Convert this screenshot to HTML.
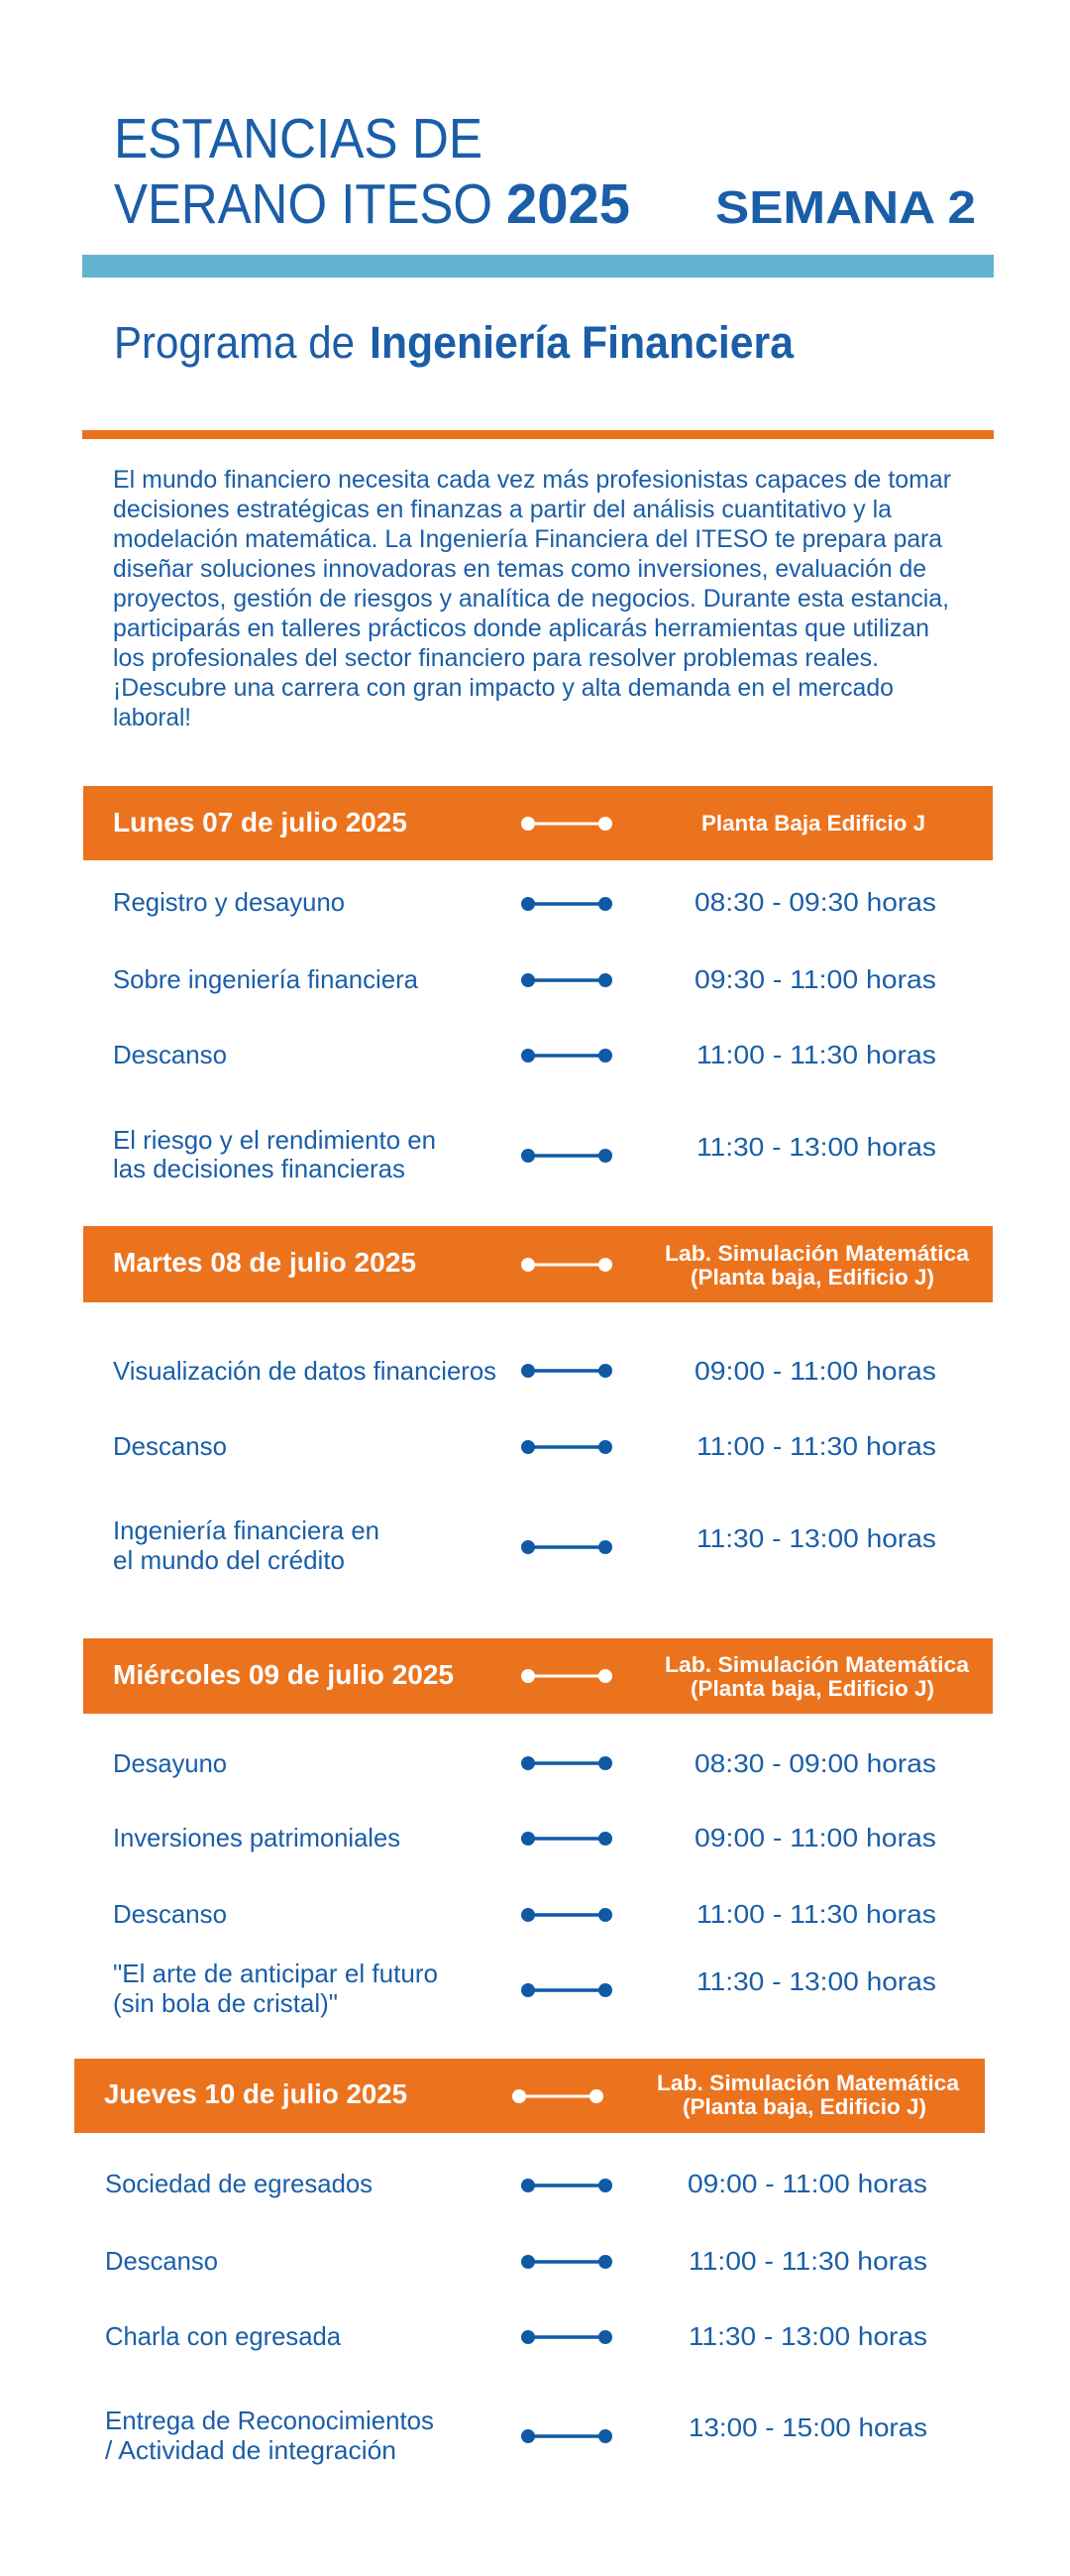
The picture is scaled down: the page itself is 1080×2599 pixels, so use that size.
<!DOCTYPE html>
<html><head><meta charset="utf-8"><style>html,body{margin:0;padding:0;background:#fff}svg{display:block}</style></head>
<body>
<svg width="1080" height="2599" viewBox="0 0 1080 2599" xmlns="http://www.w3.org/2000/svg" font-family="Liberation Sans, sans-serif">
<defs>
<g id="cw"><line x1="533" y1="0" x2="611" y2="0" stroke="#fff" stroke-width="3"/><circle cx="533" cy="0" r="7" fill="#fff"/><circle cx="611" cy="0" r="7" fill="#fff"/></g>
<g id="cb"><line x1="533" y1="0" x2="611" y2="0" stroke="#1059a5" stroke-width="3.5"/><circle cx="533" cy="0" r="7" fill="#1059a5"/><circle cx="611" cy="0" r="7" fill="#1059a5"/></g>
</defs>
<rect width="1080" height="2599" fill="#fff"/>
<g fill="#1a5ea8">
<text x="115" y="159" font-size="57" textLength="372" lengthAdjust="spacingAndGlyphs">ESTANCIAS DE</text>
<text x="115" y="225" font-size="57" textLength="382" lengthAdjust="spacingAndGlyphs">VERANO ITESO</text>
<text x="511" y="225" font-size="57" font-weight="bold" textLength="125" lengthAdjust="spacingAndGlyphs">2025</text>
<text x="722" y="225" font-size="46" font-weight="bold" textLength="263" lengthAdjust="spacingAndGlyphs">SEMANA 2</text>
</g>
<rect x="83" y="257" width="920" height="23" fill="#62b3d0"/>
<g fill="#1a5ea8">
<text x="115" y="361" font-size="45" textLength="243" lengthAdjust="spacingAndGlyphs">Programa de</text>
<text x="373" y="361" font-size="45" font-weight="bold" textLength="428" lengthAdjust="spacingAndGlyphs">Ingeniería Financiera</text>
</g>
<rect x="83" y="434" width="920" height="9" fill="#ec731e"/>
<g fill="#1a5ea8" font-size="25">
<text x="114" y="492" textLength="846" lengthAdjust="spacingAndGlyphs">El mundo financiero necesita cada vez más profesionistas capaces de tomar</text>
<text x="114" y="522" textLength="786" lengthAdjust="spacingAndGlyphs">decisiones estratégicas en finanzas a partir del análisis cuantitativo y la</text>
<text x="114" y="552" textLength="837" lengthAdjust="spacingAndGlyphs">modelación matemática. La Ingeniería Financiera del ITESO te prepara para</text>
<text x="114" y="582" textLength="821" lengthAdjust="spacingAndGlyphs">diseñar soluciones innovadoras en temas como inversiones, evaluación de</text>
<text x="114" y="612" textLength="844" lengthAdjust="spacingAndGlyphs">proyectos, gestión de riesgos y analítica de negocios. Durante esta estancia,</text>
<text x="114" y="642" textLength="824" lengthAdjust="spacingAndGlyphs">participarás en talleres prácticos donde aplicarás herramientas que utilizan</text>
<text x="114" y="672" textLength="773" lengthAdjust="spacingAndGlyphs">los profesionales del sector financiero para resolver problemas reales.</text>
<text x="114" y="702" textLength="788" lengthAdjust="spacingAndGlyphs">¡Descubre una carrera con gran impacto y alta demanda en el mercado</text>
<text x="114" y="732" textLength="79" lengthAdjust="spacingAndGlyphs">laboral!</text>
</g>

<!-- Lunes -->
<rect x="84" y="793" width="918" height="75" fill="#ec731e"/>
<use href="#cw" y="831"/>
<g fill="#fff" font-weight="bold">
<text x="114" y="839" font-size="28" textLength="297" lengthAdjust="spacingAndGlyphs">Lunes 07 de julio 2025</text>
<text x="708" y="838" font-size="22" textLength="226" lengthAdjust="spacingAndGlyphs">Planta Baja Edificio J</text>
</g>
<g fill="#1a5ea8" font-size="26">
<text x="114" y="919" textLength="234" lengthAdjust="spacingAndGlyphs">Registro y desayuno</text>
<text x="701" y="919" textLength="244" lengthAdjust="spacingAndGlyphs">08:30 - 09:30 horas</text>
<text x="114" y="997" textLength="308" lengthAdjust="spacingAndGlyphs">Sobre ingeniería financiera</text>
<text x="701" y="997" textLength="244" lengthAdjust="spacingAndGlyphs">09:30 - 11:00 horas</text>
<text x="114" y="1073" textLength="115" lengthAdjust="spacingAndGlyphs">Descanso</text>
<text x="703" y="1073" textLength="242" lengthAdjust="spacingAndGlyphs">11:00 - 11:30 horas</text>
<text x="114" y="1159" textLength="326" lengthAdjust="spacingAndGlyphs">El riesgo y el rendimiento en</text>
<text x="114" y="1188" textLength="295" lengthAdjust="spacingAndGlyphs">las decisiones financieras</text>
<text x="703" y="1166" textLength="242" lengthAdjust="spacingAndGlyphs">11:30 - 13:00 horas</text>
</g>
<use href="#cb" y="912"/><use href="#cb" y="989"/><use href="#cb" y="1065"/><use href="#cb" y="1166"/>

<!-- Martes -->
<rect x="84" y="1237" width="918" height="77" fill="#ec731e"/>
<use href="#cw" y="1276"/>
<g fill="#fff" font-weight="bold">
<text x="114" y="1283" font-size="28" textLength="306" lengthAdjust="spacingAndGlyphs">Martes 08 de julio 2025</text>
<text x="671" y="1272" font-size="22" textLength="307" lengthAdjust="spacingAndGlyphs">Lab. Simulación Matemática</text>
<text x="697" y="1296" font-size="22" textLength="246" lengthAdjust="spacingAndGlyphs">(Planta baja, Edificio J)</text>
</g>
<g fill="#1a5ea8" font-size="26">
<text x="114" y="1392" textLength="387" lengthAdjust="spacingAndGlyphs">Visualización de datos financieros</text>
<text x="701" y="1392" textLength="244" lengthAdjust="spacingAndGlyphs">09:00 - 11:00 horas</text>
<text x="114" y="1468" textLength="115" lengthAdjust="spacingAndGlyphs">Descanso</text>
<text x="703" y="1468" textLength="242" lengthAdjust="spacingAndGlyphs">11:00 - 11:30 horas</text>
<text x="114" y="1553" textLength="269" lengthAdjust="spacingAndGlyphs">Ingeniería financiera en</text>
<text x="114" y="1583" textLength="234" lengthAdjust="spacingAndGlyphs">el mundo del crédito</text>
<text x="703" y="1561" textLength="242" lengthAdjust="spacingAndGlyphs">11:30 - 13:00 horas</text>
</g>
<use href="#cb" y="1383"/><use href="#cb" y="1460"/><use href="#cb" y="1561"/>

<!-- Miércoles -->
<rect x="84" y="1653" width="918" height="76" fill="#ec731e"/>
<use href="#cw" y="1691"/>
<g fill="#fff" font-weight="bold">
<text x="114" y="1699" font-size="28" textLength="344" lengthAdjust="spacingAndGlyphs">Miércoles 09 de julio 2025</text>
<text x="671" y="1687" font-size="22" textLength="307" lengthAdjust="spacingAndGlyphs">Lab. Simulación Matemática</text>
<text x="697" y="1711" font-size="22" textLength="246" lengthAdjust="spacingAndGlyphs">(Planta baja, Edificio J)</text>
</g>
<g fill="#1a5ea8" font-size="26">
<text x="114" y="1788" textLength="115" lengthAdjust="spacingAndGlyphs">Desayuno</text>
<text x="701" y="1788" textLength="244" lengthAdjust="spacingAndGlyphs">08:30 - 09:00 horas</text>
<text x="114" y="1863" textLength="290" lengthAdjust="spacingAndGlyphs">Inversiones patrimoniales</text>
<text x="701" y="1863" textLength="244" lengthAdjust="spacingAndGlyphs">09:00 - 11:00 horas</text>
<text x="114" y="1940" textLength="115" lengthAdjust="spacingAndGlyphs">Descanso</text>
<text x="703" y="1940" textLength="242" lengthAdjust="spacingAndGlyphs">11:00 - 11:30 horas</text>
<text x="114" y="2000" textLength="328" lengthAdjust="spacingAndGlyphs">"El arte de anticipar el futuro</text>
<text x="114" y="2030" textLength="227" lengthAdjust="spacingAndGlyphs">(sin bola de cristal)"</text>
<text x="703" y="2008" textLength="242" lengthAdjust="spacingAndGlyphs">11:30 - 13:00 horas</text>
</g>
<use href="#cb" y="1779"/><use href="#cb" y="1855"/><use href="#cb" y="1932"/><use href="#cb" y="2008"/>

<!-- Jueves -->
<rect x="75" y="2077" width="919" height="75" fill="#ec731e"/>
<use href="#cw" x="-9" y="2115"/>
<g fill="#fff" font-weight="bold">
<text x="105" y="2122" font-size="28" textLength="306" lengthAdjust="spacingAndGlyphs">Jueves 10 de julio 2025</text>
<text x="663" y="2109" font-size="22" textLength="305" lengthAdjust="spacingAndGlyphs">Lab. Simulación Matemática</text>
<text x="689" y="2133" font-size="22" textLength="246" lengthAdjust="spacingAndGlyphs">(Planta baja, Edificio J)</text>
</g>
<g fill="#1a5ea8" font-size="26">
<text x="106" y="2212" textLength="270" lengthAdjust="spacingAndGlyphs">Sociedad de egresados</text>
<text x="694" y="2212" textLength="242" lengthAdjust="spacingAndGlyphs">09:00 - 11:00 horas</text>
<text x="106" y="2290" textLength="114" lengthAdjust="spacingAndGlyphs">Descanso</text>
<text x="695" y="2290" textLength="241" lengthAdjust="spacingAndGlyphs">11:00 - 11:30 horas</text>
<text x="106" y="2366" textLength="238" lengthAdjust="spacingAndGlyphs">Charla con egresada</text>
<text x="695" y="2366" textLength="241" lengthAdjust="spacingAndGlyphs">11:30 - 13:00 horas</text>
<text x="106" y="2451" textLength="332" lengthAdjust="spacingAndGlyphs">Entrega de Reconocimientos</text>
<text x="106" y="2481" textLength="294" lengthAdjust="spacingAndGlyphs">/ Actividad de integración</text>
<text x="695" y="2458" textLength="241" lengthAdjust="spacingAndGlyphs">13:00 - 15:00 horas</text>
</g>
<use href="#cb" y="2205"/><use href="#cb" y="2282"/><use href="#cb" y="2358"/><use href="#cb" y="2458"/>
</svg>
</body></html>
